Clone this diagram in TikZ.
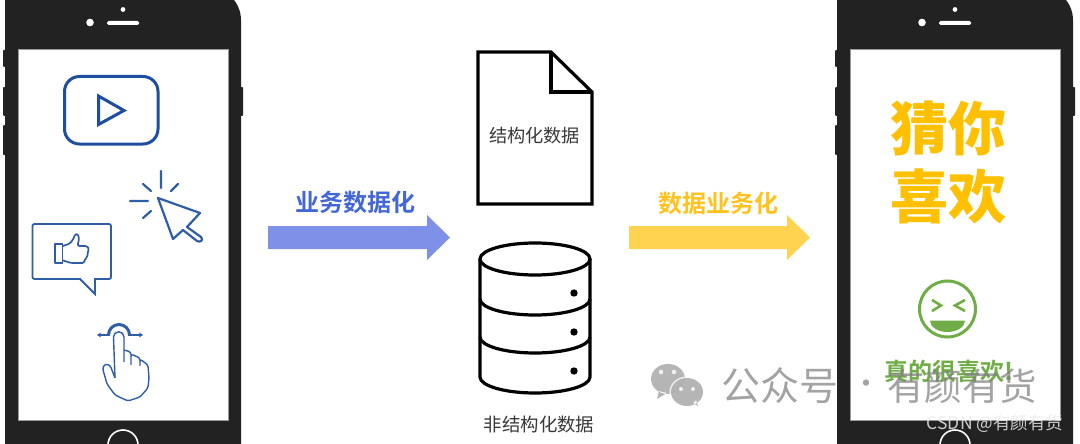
\documentclass[tikz,border=0pt]{standalone}
\usepackage{fontspec}
\usetikzlibrary{arrows.meta}
\setmainfont{Noto Sans CJK SC}
\newfontfamily\cjkbold{Noto Sans CJK SC Bold}
\newfontfamily\cjkblack{Noto Sans CJK SC Black}
\newcommand{\px}[1]{\fontsize{#1}{#1}\selectfont}
\definecolor{phonebody}{HTML}{222222}
\definecolor{iconblue}{HTML}{2F5DA6}
\definecolor{deepblue}{HTML}{1F4E9E}
\definecolor{arrowblue}{HTML}{7E90E8}
\definecolor{titleblue}{HTML}{4467D6}
\definecolor{arrowyellow}{HTML}{FFD34F}
\definecolor{titleyellow}{HTML}{FFC21F}
\definecolor{gold}{HTML}{FFC000}
\definecolor{leaf}{HTML}{70AD47}
\tikzset{
  x=1pt,y=-1pt,
  icon/.style={draw=iconblue,line width=1.8pt,line join=round,line cap=round},
  outline/.style={draw=black,line width=3.2pt,line join=miter},
  body/.style={inner sep=0pt,text=black!78},
  wmark/.style={inner sep=0pt,text=black!50,opacity=.72},
  phone/.pic={
    \fill[phonebody] (5,450) -- (5,-12) [rounded corners=32pt] -- (5,-12) -- (241,-12) [sharp corners] -- (241,450) -- cycle;
    \fill[phonebody,rounded corners=1pt] (3,50) rectangle (6,67) (3,87) rectangle (6,116) (3,125) rectangle (6,155) (240,87) rectangle (243,116);
    \fill[white] (18.5,49) rectangle (228,420);
    \draw[black!40,line width=.6pt] (18.5,49) rectangle (228,420);
    \fill[white] (90,22.5) circle (3.8) (123,9.5) circle (2.4);
    \fill[white,rounded corners=1.5pt] (107,21) rectangle (139,25);
    \draw[white,line width=1.6pt] (123,445) circle (15);
  }
}
\begin{document}
\begin{tikzpicture}
\useasboundingbox (0,0) rectangle (1080,444);
\begin{scope}
\clip (0,0) rectangle (1080,444);
\pic at (0,0) {phone};
\pic at (832,0) {phone};

% play icon
\draw[deepblue,line width=3pt,rounded corners=15pt] (64.5,76.5) rectangle (158,144);
\draw[deepblue,line width=3pt,line join=miter] (98.5,96) -- (98.5,124.5) -- (124,110.5) -- cycle;

% click icon
\draw[icon,line width=2.2pt] (158,198) -- (200,213) -- (187,227) -- (201,237) .. controls (204,240) and (200,243) .. (197,241) -- (183,230) -- (173,239) -- cycle;
\draw[icon,line width=2.2pt] (161,171) -- (161,188) (143,184) -- (151,191) (171,191) -- (178,184) (130,201) -- (148,201) (143,218) -- (151,211);

% like icon
\draw[icon,rounded corners=2pt] (32.5,224) rectangle (111,279);
\fill[white] (81,277) rectangle (94,281);
\draw[icon,line join=miter] (80,279) -- (95,294) -- (95,279);
\draw[icon,line width=1.7pt] (55,244) rectangle (62.5,263);
\draw[icon,line width=1.7pt,rounded corners=1.5pt] (63,246) -- (70,243.5) -- (74,238) -- (75,234) -- (78,234) -- (79,239) -- (77.5,246) -- (87,246) -- (89,249) -- (87.5,253) -- (87.5,257) -- (85,259) -- (84,263) -- (71,263) -- (63,260.5);

% swipe icon
\draw[iconblue,line width=1.4pt,-{Stealth[length=4pt,width=5pt]}] (110,335) -- (97,335);
\draw[iconblue,line width=1.4pt,-{Stealth[length=4pt,width=5pt]}] (128,335) -- (143,335);
\draw[iconblue,line width=3pt] (108.5,335) arc[start angle=180,end angle=360,radius=10.5];
\fill[white] (114,333) rectangle (123.5,345);
\draw[iconblue,line width=1.4pt,line join=round] (115,378) -- (113.5,337) arc[start angle=180,end angle=360,radius=5.25] -- (124,362);
\draw[iconblue,line width=1.4pt,line join=round,rounded corners=2.5pt] (124,350) -- (131,352) -- (131,366) -- (131,354) -- (140,358) -- (140,367) -- (140,359) -- (148,365) -- (149,378) -- (148,388) -- (140,397) -- (128,401) -- (115,395) -- (107,384) -- (102.5,368) -- (105,364) -- (110,365) -- (115,378);

% centre arrows
\fill[arrowblue] (268,226) -- (427,226) -- (427,215) -- (450,237.5) -- (427,260) -- (427,249) -- (268,249) -- cycle;
\fill[arrowyellow] (629,226) -- (787,226) -- (787,215) -- (810,237.5) -- (787,260) -- (787,249) -- (629,249) -- cycle;
\node[inner sep=0pt,text=titleblue] (lefttitle) at (355,202) {\cjkbold\px{24}业务数据化};
\node[inner sep=0pt,text=titleyellow] (righttitle) at (718.5,203) {\cjkbold\px{24}数据业务化};

% document
\draw[outline] (551,52) -- (478,52) -- (478,204) -- (592,204) -- (592,92) -- cycle;
\draw[outline] (551,52) -- (551,92) -- (592,92);
\node[body] (structured) at (534.5,136) {\px{18.2}结构化数据};

% database
\draw[black,line width=3.2pt] (535,259) ellipse[x radius=55,y radius=16];
\draw[black,line width=3.2pt,line join=round] (480,259) -- (480,377) arc[start angle=180,end angle=0,x radius=55,y radius=16] -- (590,259);
\draw[black,line width=3.2pt] (480,299) arc[start angle=180,end angle=0,x radius=55,y radius=16];
\draw[black,line width=3.2pt] (480,337) arc[start angle=180,end angle=0,x radius=55,y radius=16];
\fill[black] (574,293) circle (3.7) (574,332) circle (3.7) (574,371) circle (3.7);
\node[body] (unstructured) at (539,425) {\px{18.4}非结构化数据};

% right screen
\node[inner sep=0pt,text=gold] (guess) at (948,128) {\cjkblack\px{58}猜你};
\node[inner sep=0pt,text=gold] (like) at (948,196.5) {\cjkblack\px{58}喜欢};
\draw[leaf,line width=3pt] (947.5,309) circle (28);
\draw[leaf,line width=2.6pt,line join=miter] (932,300) -- (941,305.5) -- (932,311);
\draw[leaf,line width=2.6pt,line join=miter] (965,300) -- (955,305.5) -- (965,311);
\fill[leaf] (930,320.5) arc[start angle=180,end angle=0,x radius=17.5,y radius=11.5] -- cycle;
\node[inner sep=0pt,text=leaf] (really) at (949,371) {\cjkbold\px{24}真的很喜欢!};

% watermarks
\begin{scope}[opacity=.8]
\fill[black!36] (668,379) ellipse[x radius=17,y radius=15] (659,391) -- (657,399) -- (667,393) -- cycle;
\fill[white] (661,372) circle (2.3) (674,372) circle (2.3);
\fill[white] (687,392) ellipse[x radius=17.5,y radius=15.5];
\fill[black!36] (687,392) ellipse[x radius=16,y radius=14] (693,403) -- (698,406) -- (696,400) -- cycle;
\fill[white] (681,389) circle (2) (693,389) circle (2);
\end{scope}
\node[wmark] (wechat) at (780,386) {\px{39}公众号};
\node[wmark] (sep) at (866,387) {\px{30}·};
\node[wmark] (account) at (962,386) {\px{37.5}有颜有货};
\node[inner sep=0pt,text=white!92!black,opacity=.85] (csdn) at (995,424) {\px{17.5}CSDN @有颜有货};
\end{scope}
\end{tikzpicture}
\end{document}
